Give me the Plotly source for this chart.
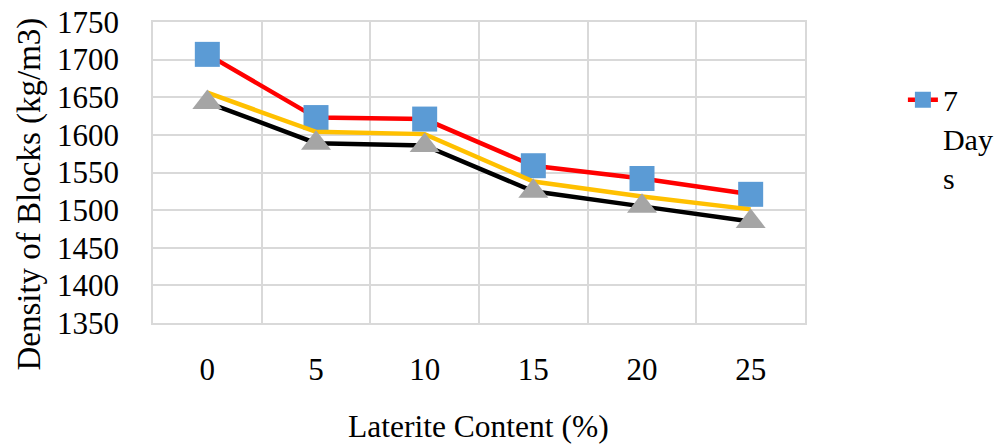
import plotly.graph_objects as go

# Laterite content (%) on the x axis
laterite = [0, 5, 10, 15, 20, 25]
tick_labels = ["0", "5", "10", "15", "20", "25"]

# Block density (kg/m3) at each curing age
density_7d = [1707, 1623, 1621, 1559, 1542, 1521]
density_14d = [1656, 1604, 1601, 1538, 1518, 1501]
density_28d = [1643, 1589, 1586, 1525, 1505, 1485]

y_ticks = [1350, 1400, 1450, 1500, 1550, 1600, 1650, 1700, 1750]

FONT = "Times New Roman"
GRID = "#D9D9D9"

fig = go.Figure()

fig.add_trace(go.Scatter(
    x=laterite, y=density_7d, name="7<br>Day<br>s",
    mode="lines+markers",
    line=dict(color="#FF0000", width=4.5),
    marker=dict(symbol="square", size=25, color="#5B9BD5", line=dict(width=0)),
))
fig.add_trace(go.Scatter(
    x=laterite, y=density_14d, name="14 Days",
    mode="lines", showlegend=False,
    line=dict(color="#FFC000", width=4.5),
))
fig.add_trace(go.Scatter(
    x=laterite, y=density_28d, name="28 Days",
    mode="lines+markers", showlegend=False,
    line=dict(color="#000000", width=4.5),
    marker=dict(symbol="triangle-up", size=26, color="#A5A5A5", line=dict(width=0)),
))

fig.update_layout(
    template="none",
    width=1001, height=447,
    margin=dict(l=153, r=196, t=22, b=124),
    paper_bgcolor="white", plot_bgcolor="white",
    font=dict(family=FONT, size=31, color="#000000"),
    showlegend=True,
    legend=dict(
        xref="container", yref="container",
        x=0.902, y=0.835, xanchor="left", yanchor="top",
        valign="top", bgcolor="rgba(0,0,0,0)", borderwidth=0,
        font=dict(family=FONT, size=30, color="#000000"),
        itemwidth=30,
    ),
    xaxis=dict(
        range=[-2.5, 27.5], automargin=False,
        tickmode="array", tickvals=laterite, ticktext=tick_labels,
        showgrid=False, zeroline=False,
        showline=True, linecolor=GRID, linewidth=1.5, mirror=True,
        ticks="", ticklabelstandoff=18,
        minor=dict(tick0=2.5, dtick=5, showgrid=True, gridcolor=GRID, gridwidth=1.5, ticks=""),
        tickfont=dict(family=FONT, size=31, color="#000000"),
    ),
    yaxis=dict(
        range=[1350, 1750], automargin=False,
        tickmode="array", tickvals=y_ticks,
        showgrid=True, gridcolor=GRID, gridwidth=1.5, zeroline=False,
        showline=True, linecolor=GRID, linewidth=1.5, mirror=True,
        ticks="", ticklabelstandoff=26,
        tickfont=dict(family=FONT, size=31, color="#000000"),
    ),
    annotations=[
        dict(text="Laterite Content (%)", xref="paper", yref="paper",
             x=0.499, y=-0.343, xanchor="center", yanchor="middle",
             showarrow=False, font=dict(family=FONT, size=31.5, color="#000000")),
        dict(text="Density of Blocks (kg/m3)", xref="paper", yref="paper",
             x=-0.19, y=0.427, xanchor="center", yanchor="middle",
             textangle=-90, showarrow=False, font=dict(family=FONT, size=33, color="#000000")),
    ],
)

fig.write_html("out.html")
